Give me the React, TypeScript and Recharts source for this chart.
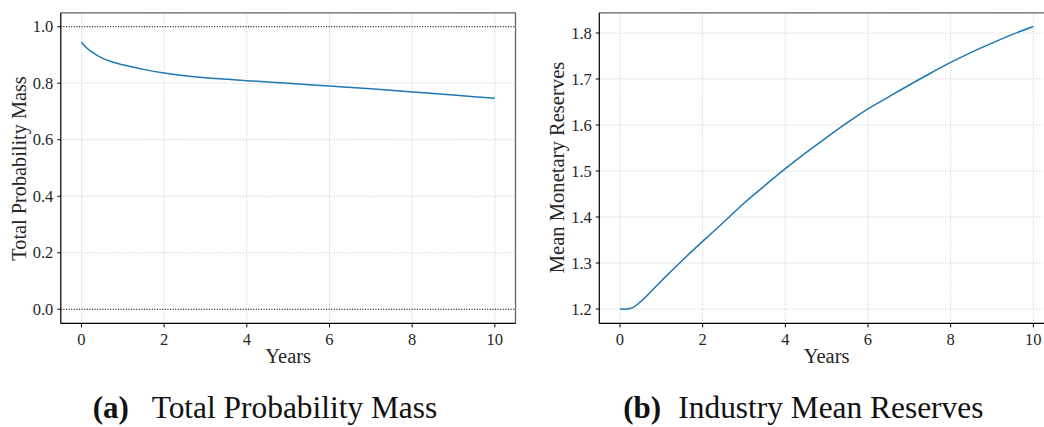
import React from 'react';
import { LineChart, Line, XAxis, YAxis, CartesianGrid, ReferenceLine, Label } from 'recharts';

// ---- data ----
const yearsA = [0, 0.1, 0.25, 0.5, 0.75, 1, 1.5, 2, 2.5, 3, 3.5, 4, 5, 6, 7, 8, 9, 10];
const massA = [0.946, 0.928, 0.911, 0.889, 0.875, 0.865, 0.849, 0.836, 0.826, 0.819, 0.814, 0.809, 0.8, 0.79, 0.78, 0.769, 0.758, 0.747];

const yearsB = [0, 0.1, 0.25, 0.5, 0.75, 1, 1.25, 1.5, 2, 2.5, 3, 3.5, 4, 4.5, 5, 5.5, 6, 6.5, 7, 7.5, 8, 8.5, 9, 9.5, 10];
const reservesB = [1.2, 1.1995, 1.201, 1.216, 1.238, 1.261, 1.283, 1.305, 1.347, 1.388, 1.43, 1.468, 1.505, 1.54, 1.573, 1.605, 1.635, 1.661, 1.687, 1.712, 1.736, 1.758, 1.778, 1.797, 1.814];

const xTicks = [0, 2, 4, 6, 8, 10];
const yTicksA = [0, 0.2, 0.4, 0.6, 0.8, 1.0];
const yTicksB = [1.2, 1.3, 1.4, 1.5, 1.6, 1.7, 1.8];
const refLinesA = [0, 1];

const labelX = 'Years';
const labelYA = 'Total Probability Mass';
const labelYB = 'Mean Monetary Reserves';
const captionTagA = '(a)';
const captionTextA = 'Total Probability Mass';
const captionTagB = '(b)';
const captionTextB = 'Industry Mean Reserves';

const dataA = yearsA.map((x, i) => ({ x, y: massA[i] }));
const dataB = yearsB.map((x, i) => ({ x, y: reservesB[i] }));

const FONT = "Liberation Serif";
const gridProps = { stroke: '#bdbdbd', strokeDasharray: '1 1.6', strokeWidth: 0.8 };
const CW = 530;
const CH = 380;
const TOP = 12.8;
const BOTTOM_PLOT = 323.4;
const XAXIS_H = 30;

const yDomainA: [number, number] = [-0.05, 1.0492];
const yDomainB: [number, number] = [1.1687, 1.8439];
const xDomain: [number, number] = [-0.5, 10.5];

const XTick = (props: any) => {
  const { x, y, payload } = props;
  return (
    <text x={x} y={y + 14.7} textAnchor="middle" fontFamily={FONT} fontSize={16.5} fill="#262626">
      {String(payload.value)}
    </text>
  );
};

const YTick = (props: any) => {
  const { x, y, payload } = props;
  return (
    <text x={x} y={y + 5.6} textAnchor="end" fontFamily={FONT} fontSize={16.5} fill="#262626">
      {Number(payload.value).toFixed(1)}
    </text>
  );
};

function App() {
  return (
    <div style={{ position: 'absolute', left: 0, top: 0, width: 1044, height: 427, overflow: 'hidden', background: '#fff', fontFamily: FONT }}>
      <div style={{ position: 'absolute', left: 0, top: 0 }}>
        <LineChart
          width={CW}
          height={CH}
          data={dataA}
          margin={{ top: TOP, right: CW - 515.5, bottom: CH - BOTTOM_PLOT - XAXIS_H, left: 0 }}
        >
          <CartesianGrid {...gridProps} />
          <XAxis
            type="number"
            dataKey="x"
            domain={xDomain}
            ticks={xTicks}
            allowDataOverflow
            height={XAXIS_H}
            tick={<XTick />}
            tickSize={4}
            tickMargin={3}
            axisLine={{ stroke: '#000', strokeWidth: 1.2 }}
            tickLine={{ stroke: '#000' }}
          >
            <Label
              content={() => (
                <text x={288.2} y={363} textAnchor="middle" fontFamily={FONT} fontSize={20.5} fill="#262626">
                  {labelX}
                </text>
              )}
            />
          </XAxis>
          <YAxis
            type="number"
            domain={yDomainA}
            ticks={yTicksA}
            allowDataOverflow
            width={60.8}
            tick={<YTick />}
            tickSize={3.5}
            tickMargin={4}
            axisLine={{ stroke: '#000', strokeWidth: 1.2 }}
            tickLine={{ stroke: '#000' }}
          >
            <Label
              content={() => (
                <text
                  x={26}
                  y={168.5}
                  transform="rotate(-90 26 168.5)"
                  textAnchor="middle"
                  fontFamily={FONT}
                  fontSize={20.3}
                  fill="#262626"
                >
                  {labelYA}
                </text>
              )}
            />
          </YAxis>
          {refLinesA.map((v) => (
            <ReferenceLine key={v} y={v} stroke="#000" strokeDasharray="1 1.6" strokeWidth={1} />
          ))}
          <ReferenceLine y={yDomainA[1]} stroke="#666" strokeWidth={1.3} />
          <ReferenceLine x={xDomain[1]} stroke="#666" strokeWidth={1.3} />
          <Line type="monotone" dataKey="y" stroke="#1f77b4" strokeWidth={1.5} dot={false} isAnimationActive={false} />
        </LineChart>
      </div>

      <div style={{ position: 'absolute', left: 530, top: 0 }}>
        <LineChart
          width={CW}
          height={CH}
          data={dataB}
          margin={{ top: TOP, right: CW - 524, bottom: CH - BOTTOM_PLOT - XAXIS_H, left: 0 }}
        >
          <CartesianGrid {...gridProps} />
          <XAxis
            type="number"
            dataKey="x"
            domain={xDomain}
            ticks={xTicks}
            allowDataOverflow
            height={XAXIS_H}
            tick={<XTick />}
            tickSize={4}
            tickMargin={3}
            axisLine={{ stroke: '#000', strokeWidth: 1.2 }}
            tickLine={{ stroke: '#000' }}
          >
            <Label
              content={() => (
                <text x={296.6} y={363} textAnchor="middle" fontFamily={FONT} fontSize={20.5} fill="#262626">
                  {labelX}
                </text>
              )}
            />
          </XAxis>
          <YAxis
            type="number"
            domain={yDomainB}
            ticks={yTicksB}
            allowDataOverflow
            width={69.3}
            tick={<YTick />}
            tickSize={3.5}
            tickMargin={4}
            axisLine={{ stroke: '#000', strokeWidth: 1.2 }}
            tickLine={{ stroke: '#000' }}
          >
            <Label
              content={() => (
                <text
                  x={34}
                  y={167.5}
                  transform="rotate(-90 34 167.5)"
                  textAnchor="middle"
                  fontFamily={FONT}
                  fontSize={20.6}
                  fill="#262626"
                >
                  {labelYB}
                </text>
              )}
            />
          </YAxis>
          <ReferenceLine y={yDomainB[1]} stroke="#666" strokeWidth={1.3} />
          <Line type="monotone" dataKey="y" stroke="#1f77b4" strokeWidth={1.5} dot={false} isAnimationActive={false} />
        </LineChart>
      </div>

      <svg width={1044} height={427} style={{ position: 'absolute', left: 0, top: 0, pointerEvents: 'none' }}>
        <text x={92.7} y={418.3} fontFamily={FONT} fontSize={31} fontWeight="bold" fill="#111">
          {captionTagA}
        </text>
        <text x={151.7} y={418.3} fontFamily={FONT} fontSize={31.4} fill="#111">
          {captionTextA}
        </text>
        <text x={623.3} y={418.3} fontFamily={FONT} fontSize={31} fontWeight="bold" fill="#111">
          {captionTagB}
        </text>
        <text x={678.3} y={418.3} fontFamily={FONT} fontSize={31.4} fill="#111">
          {captionTextB}
        </text>
      </svg>
    </div>
  );
}

export default App;
